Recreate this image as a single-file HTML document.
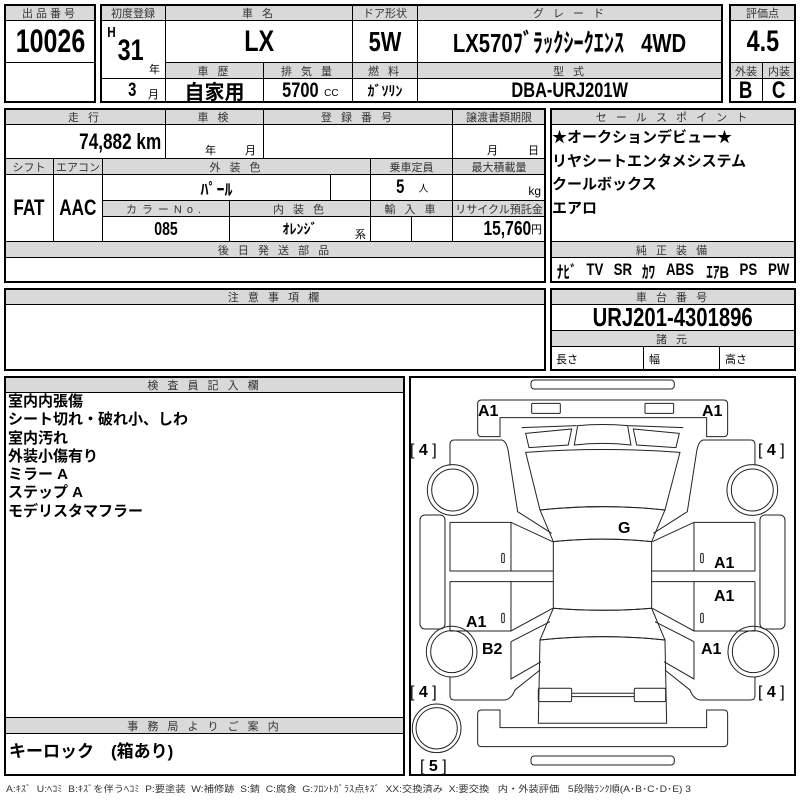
<!DOCTYPE html>
<html><head><meta charset="utf-8"><style>
*{margin:0;padding:0;box-sizing:border-box}
body{width:800px;height:800px;background:#fff;position:relative;overflow:hidden;font-family:"Liberation Sans","Noto Sans CJK JP",sans-serif;color:#000}
.c{position:absolute;border:1px solid #000;display:flex;align-items:center;justify-content:center;white-space:nowrap;overflow:visible}
.h{background:#d9d9d9;font-size:11px;color:#333;letter-spacing:3px;overflow:hidden}
.o{position:absolute;border:2px solid #000;pointer-events:none}
.v{font-weight:bold}
.n{display:inline-block;transform:scaleX(.78)}
.t{position:absolute;white-space:nowrap}
</style></head><body>
<!-- box1 -->
<div class="c h" style="left:4px;top:4px;width:92px;height:17px">出品番号</div>
<div class="c v" style="left:4px;top:20px;width:92px;height:43px;font-size:32px"><span class="n">10026</span></div>
<div class="o" style="left:4px;top:4px;width:92px;height:99px"></div>
<!-- box2 -->
<div class="c h" style="left:100px;top:4px;width:66px;height:17px;letter-spacing:0">初度登録</div>
<div class="c h" style="left:165px;top:4px;width:188px;height:17px">車 名</div>
<div class="c h" style="left:352px;top:4px;width:66px;height:17px;letter-spacing:0">ドア形状</div>
<div class="c h" style="left:417px;top:4px;width:306px;height:17px">グ レ ー ド</div>
<div class="c" style="left:100px;top:20px;width:66px;height:59px"></div>
<div class="t v" style="left:106px;top:24px;font-size:15px"><span class="n">H</span></div>
<div class="t v" style="left:114px;top:34px;font-size:30px"><span class="n">31</span></div>
<div class="t" style="left:149px;top:61px;font-size:11px">年</div>
<div class="c v" style="left:165px;top:20px;width:188px;height:43px;font-size:30px"><span class="n">LX</span></div>
<div class="c v" style="left:352px;top:20px;width:66px;height:43px;font-size:28px"><span class="n">5W</span></div>
<div class="c v" style="left:417px;top:20px;width:306px;height:43px;font-size:26px"><span class="n">LX570ﾌﾞﾗｯｸｼｰｸｴﾝｽ&nbsp;&nbsp; 4WD</span></div>
<div class="c h" style="left:165px;top:62px;width:99px;height:17px">車 歴</div>
<div class="c h" style="left:263px;top:62px;width:90px;height:17px">排 気 量</div>
<div class="c h" style="left:352px;top:62px;width:66px;height:17px">燃 料</div>
<div class="c h" style="left:417px;top:62px;width:306px;height:17px">型 式</div>
<div class="c" style="left:100px;top:78px;width:66px;height:25px"></div>
<div class="t v" style="left:127px;top:80px;font-size:19px"><span class="n">3</span></div>
<div class="t" style="left:148px;top:86px;font-size:11px">月</div>
<div class="c" style="left:165px;top:78px;width:99px;height:25px;font-size:20px;font-weight:bold">自家用</div>
<div class="c" style="left:263px;top:78px;width:90px;height:25px"><span class="v n" style="font-size:21px">5700</span><span style="font-size:10px;margin-top:6px">CC</span></div>
<div class="c" style="left:352px;top:78px;width:66px;height:25px;font-size:14px;font-weight:bold">ｶﾞｿﾘﾝ</div>
<div class="c v" style="left:417px;top:78px;width:306px;height:25px;font-size:21px"><span class="n">DBA-URJ201W</span></div>
<div class="o" style="left:100px;top:4px;width:623px;height:99px"></div>
<!-- box3 -->
<div class="c h" style="left:729px;top:4px;width:67px;height:17px;letter-spacing:0">評価点</div>
<div class="c v" style="left:729px;top:20px;width:67px;height:43px;font-size:30px"><span class="n">4.5</span></div>
<div class="c h" style="left:729px;top:62px;width:34px;height:17px;letter-spacing:0">外装</div>
<div class="c h" style="left:762px;top:62px;width:34px;height:17px;letter-spacing:0">内装</div>
<div class="c v" style="left:729px;top:78px;width:34px;height:25px;font-size:24px"><span class="n">B</span></div>
<div class="c v" style="left:762px;top:78px;width:34px;height:25px;font-size:24px"><span class="n">C</span></div>
<div class="o" style="left:729px;top:4px;width:67px;height:99px"></div>
<!-- row2 -->
<div class="c h" style="left:4px;top:108px;width:162px;height:17px">走 行</div>
<div class="c h" style="left:165px;top:108px;width:99px;height:17px">車 検</div>
<div class="c h" style="left:263px;top:108px;width:190px;height:17px">登 録 番 号</div>
<div class="c h" style="left:452px;top:108px;width:94px;height:17px;letter-spacing:0">譲渡書類期限</div>
<div class="c v" style="left:4px;top:124px;width:162px;height:35px;font-size:22px;justify-content:flex-end;padding-right:4px"><span class="n" style="transform-origin:right">74,882 km</span></div>
<div class="c" style="left:165px;top:124px;width:99px;height:35px"></div>
<div class="t" style="left:205px;top:142px;font-size:11px">年</div>
<div class="t" style="left:245px;top:142px;font-size:11px">月</div>
<div class="c" style="left:263px;top:124px;width:190px;height:35px"></div>
<div class="c" style="left:452px;top:124px;width:94px;height:35px"></div>
<div class="t" style="left:487px;top:142px;font-size:11px">月</div>
<div class="t" style="left:528px;top:142px;font-size:11px">日</div>
<div class="c h" style="left:4px;top:158px;width:50px;height:17px;letter-spacing:0">シフト</div>
<div class="c h" style="left:53px;top:158px;width:50px;height:17px;letter-spacing:0">エアコン</div>
<div class="c h" style="left:102px;top:158px;width:269px;height:17px">外 装 色</div>
<div class="c h" style="left:370px;top:158px;width:83px;height:17px;letter-spacing:0">乗車定員</div>
<div class="c h" style="left:452px;top:158px;width:94px;height:17px;letter-spacing:0">最大積載量</div>
<div class="c v" style="left:4px;top:174px;width:50px;height:68px;font-size:22px"><span class="n">FAT</span></div>
<div class="c v" style="left:53px;top:174px;width:50px;height:68px;font-size:22px"><span class="n">AAC</span></div>
<div class="c" style="left:102px;top:174px;width:229px;height:27px;font-size:16px;font-weight:bold">ﾊﾟｰﾙ</div>
<div class="c" style="left:330px;top:174px;width:41px;height:27px"></div>
<div class="c" style="left:370px;top:174px;width:83px;height:27px"><span class="v n" style="font-size:19px">5</span>&nbsp;&nbsp;&nbsp;<span style="font-size:10px">人</span></div>
<div class="c" style="left:452px;top:174px;width:94px;height:27px;justify-content:flex-end;padding-right:4px;font-size:12px;padding-top:6px">kg</div>
<div class="c h" style="left:102px;top:200px;width:128px;height:17px;letter-spacing:5px">カラーNo.</div>
<div class="c h" style="left:229px;top:200px;width:142px;height:17px">内 装 色</div>
<div class="c h" style="left:370px;top:200px;width:83px;height:17px">輸 入 車</div>
<div class="c h" style="left:452px;top:200px;width:94px;height:17px;letter-spacing:0">リサイクル預託金</div>
<div class="c v" style="left:102px;top:216px;width:128px;height:26px;font-size:18px"><span class="n">085</span></div>
<div class="c" style="left:229px;top:216px;width:142px;height:26px;font-size:14px;font-weight:bold">ｵﾚﾝｼﾞ</div>
<div class="t" style="left:355px;top:226px;font-size:11px">系</div>
<div class="c" style="left:370px;top:216px;width:42px;height:26px"></div>
<div class="c" style="left:411px;top:216px;width:42px;height:26px"></div>
<div class="c" style="left:452px;top:216px;width:94px;height:26px;justify-content:flex-end;padding-right:3px"><span class="v n" style="font-size:20px;transform-origin:right">15,760</span><span style="font-size:11px">円</span></div>
<div class="c h" style="left:4px;top:241px;width:542px;height:17px">後 日 発 送 部 品</div>
<div class="o" style="left:4px;top:108px;width:542px;height:175px"></div>
<!-- sales -->
<div class="c h" style="left:550px;top:108px;width:246px;height:17px">セ ー ル ス ポ イ ン ト</div>
<div class="t" style="left:552px;top:126px;font-size:15px;font-weight:bold;line-height:23.5px">★オークションデビュー★<br>リヤシートエンタメシステム<br>クールボックス<br>エアロ</div>
<div class="c h" style="left:550px;top:241px;width:246px;height:17px">純 正 装 備</div>
<div class="c v" style="left:550px;top:257px;width:246px;height:26px;font-size:17px;justify-content:space-around;padding:0 0px"><span class="n">ﾅﾋﾞ</span><span class="n">TV</span><span class="n">SR</span><span class="n">ｶﾜ</span><span class="n">ABS</span><span class="n">ｴｱB</span><span class="n">PS</span><span class="n">PW</span></div>
<div class="o" style="left:550px;top:108px;width:246px;height:175px"></div>
<!-- 注意 -->
<div class="c h" style="left:4px;top:288px;width:542px;height:17px">注 意 事 項 欄</div>
<div class="o" style="left:4px;top:288px;width:542px;height:83px"></div>
<!-- 車台 -->
<div class="c h" style="left:550px;top:288px;width:246px;height:17px">車 台 番 号</div>
<div class="c v" style="left:550px;top:304px;width:246px;height:27px;font-size:26px"><span class="n">URJ201-4301896</span></div>
<div class="c h" style="left:550px;top:330px;width:246px;height:17px">諸 元</div>
<div class="c" style="left:550px;top:346px;width:94px;height:25px;font-size:11px;justify-content:flex-start;padding-left:5px">長さ</div>
<div class="c" style="left:643px;top:346px;width:77px;height:25px;font-size:11px;justify-content:flex-start;padding-left:5px">幅</div>
<div class="c" style="left:719px;top:346px;width:77px;height:25px;font-size:11px;justify-content:flex-start;padding-left:5px">高さ</div>
<div class="o" style="left:550px;top:288px;width:246px;height:83px"></div>
<!-- 検査員 -->
<div class="c h" style="left:4px;top:376px;width:401px;height:17px">検 査 員 記 入 欄</div>
<div class="t" style="left:8px;top:393px;font-size:15px;font-weight:bold;line-height:18.3px">室内内張傷<br>シート切れ・破れ小、しわ<br>室内汚れ<br>外装小傷有り<br>ミラー A<br>ステップ A<br>モデリスタマフラー</div>
<div class="c h" style="left:4px;top:717px;width:401px;height:17px">事 務 局 よ り ご 案 内</div>
<div class="t" style="left:9px;top:737px;font-size:17px;font-weight:bold">キーロック　(箱あり)</div>
<div class="o" style="left:4px;top:376px;width:401px;height:400px"></div>
<!-- diagram -->
<div class="o" style="left:409px;top:376px;width:387px;height:400px"></div>
<svg style="position:absolute;left:0;top:0" width="800" height="800">
<g transform="translate(405,375) scale(0.3333)" fill="none" stroke="#222" stroke-width="3">
<rect x="378" y="15" width="430" height="27" rx="10"/>
<rect x="378" y="1143" width="430" height="27" rx="10"/>
<path d="M230,75 H956 Q968,75 968,87 V173 Q968,185 956,185 H905 V128 H285 V185 H230 Q218,185 218,173 V87 Q218,75 230,75Z"/>
<path d="M230,1115 H956 Q968,1115 968,1103 V1017 Q968,1005 956,1005 H905 V1058 H285 V1005 H230 Q218,1005 218,1017 V1103 Q218,1115 230,1115Z"/>
<rect x="380" y="85" width="86" height="30" rx="3"/>
<rect x="720" y="85" width="86" height="30" rx="3"/>
<path d="M362,232 Q593,215 825,232 L780,405 Q593,385 405,405 Z"/>
<path d="M405,405 Q593,385 780,405 L740,500 Q593,485 445,500 Z"/>
<path d="M445,500 Q593,485 740,500 V700 Q593,712 445,700 Z"/>
<path d="M445,700 Q593,712 740,700 L780,795 Q593,775 405,795 Z"/>
<path d="M405,795 Q593,775 780,795 L785,1045 H400 Z"/>
<path d="M508,210 L518,152 Q593,145 668,152 L678,210 Q593,200 508,210Z"/>
<rect x="400" y="940" width="100" height="40" rx="4"/>
<rect x="688" y="940" width="94" height="40" rx="4"/>
<path d="M500,955 H688 M500,965 H688"/>
<g id="L">
<path d="M350,158 L515,152 M362,175 L500,162 L490,210 L372,218 Z"/>
<path d="M148,195 H290 Q305,198 310,230 L338,410 L440,475"/>
<path d="M135,272 V208 Q135,195 148,195"/>
<circle cx="143" cy="345" r="76"/><circle cx="143" cy="345" r="63"/>
<circle cx="140" cy="830" r="76"/><circle cx="140" cy="830" r="63"/>
<rect x="45" y="420" width="75" height="342" rx="15"/>
<path d="M135,442 H318 L443,500 M135,442 V588 H445 M318,442 V588 M135,620 H445 M135,620 V768 H318 L443,700 M318,620 V768"/>
<rect x="290" y="535" width="8" height="28" rx="4"/>
<rect x="290" y="715" width="8" height="28" rx="4"/>
<path d="M318,800 L435,740 M318,800 V912 L408,860"/>
<path d="M135,905 V962 Q135,975 148,975 H300 Q320,972 330,945 L405,885"/>
</g>
<use href="#L" transform="translate(1185,0) scale(-1,1)"/>
<circle cx="95" cy="1060" r="73"/><circle cx="95" cy="1060" r="62"/>
</g>
<g font-family="Liberation Sans,sans-serif" font-weight="bold" font-size="16" fill="#000">
<text x="478" y="416">A1</text><text x="702" y="416">A1</text>
<text x="618" y="533">G</text>
<text x="714" y="568">A1</text><text x="714" y="601">A1</text>
<text x="466" y="627">A1</text><text x="482" y="654">B2</text>
<text x="701" y="654">A1</text>
</g>
<g font-family="Liberation Sans,sans-serif" font-size="16" fill="#000">
<text x="410" y="455">[ <tspan font-weight="bold">4</tspan> ]</text>
<text x="758" y="455">[ <tspan font-weight="bold">4</tspan> ]</text>
<text x="410" y="697">[ <tspan font-weight="bold">4</tspan> ]</text>
<text x="758" y="697">[ <tspan font-weight="bold">4</tspan> ]</text>
<text x="420" y="771">[ <tspan font-weight="bold">5</tspan> ]</text>
</g>
</svg>
<div class="t" style="left:6px;top:782px;font-size:9px;color:#333;transform:scaleX(1.14);transform-origin:left">A:ｷｽﾞ&nbsp; U:ﾍｺﾐ&nbsp; B:ｷｽﾞを伴うﾍｺﾐ&nbsp; P:要塗装&nbsp; W:補修跡&nbsp; S:錆&nbsp; C:腐食&nbsp; G:ﾌﾛﾝﾄｶﾞﾗｽ点ｷｽﾞ&nbsp; XX:交換済み&nbsp; X:要交換&nbsp;&nbsp; 内・外装評価&nbsp;&nbsp; 5段階ﾗﾝｸ順(A･B･C･D･E) 3</div>
</body></html>
